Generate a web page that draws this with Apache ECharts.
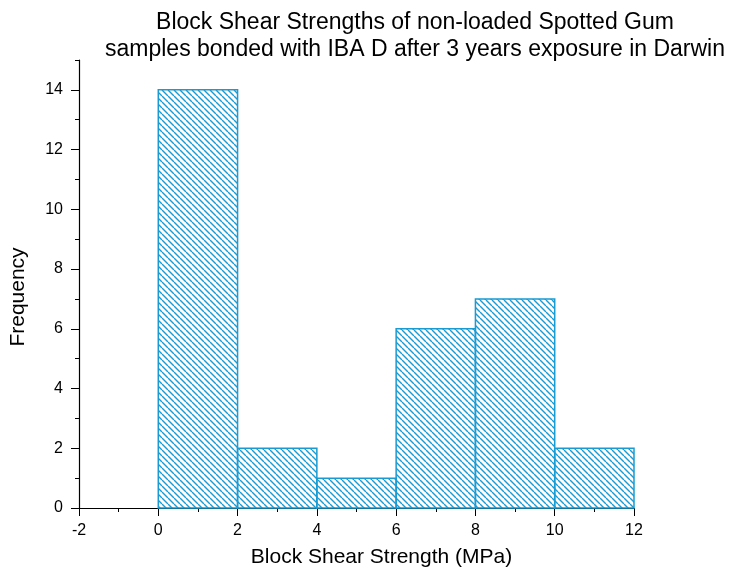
<!DOCTYPE html>
<html>
<head>
<meta charset="utf-8">
<script src="https://cdn.jsdelivr.net/npm/echarts@6/dist/echarts.min.js"></script>
<style>
  html, body { margin: 0; padding: 0; background: #fff; }
  #chart { width: 732px; height: 578px; }
</style>
</head>
<body>
<div id="chart"></div>
<script>
// histogram bins (MPa) and counts
const binStarts = [0, 2, 4, 6, 8, 10];
const binEnds = [2, 4, 6, 8, 10, 12];
const counts = [14, 2, 1, 6, 7, 2];

const xMajorTicks = [-2, 0, 2, 4, 6, 8, 10, 12];
const xMinorTicks = [-1, 1, 3, 5, 7, 9, 11];
const yMajorTicks = [0, 2, 4, 6, 8, 10, 12, 14];
const yMinorTicks = [1, 3, 5, 7, 9, 11, 13, 15];

const barColor = "#1a9bd2";
const fontFamily = "Liberation Sans, Arial, sans-serif";

// hatch pattern "\\\\"
function makeHatch() {
  const p = 6;
  const c = document.createElement("canvas");
  c.width = p;
  c.height = p;
  const ctx = c.getContext("2d");
  ctx.strokeStyle = barColor;
  ctx.lineWidth = 1.4;
  for (let a = -p; a <= p; a += p) {
    ctx.beginPath();
    ctx.moveTo(a, 0);
    ctx.lineTo(a + p, p);
    ctx.stroke();
  }
  return c;
}
const hatch = makeHatch();

const chart = echarts.init(document.getElementById("chart"));

const axisBase = {
  type: "value",
  axisLine: { show: true, onZero: false, lineStyle: { color: "#000", width: 1.2 } },
  splitLine: { show: false },
};

const option = {
  animation: false,
  title: {
    text: "Block Shear Strengths of non-loaded Spotted Gum\nsamples bonded with IBA D after 3 years exposure in Darwin",
    left: 410,
    top: 4,
    textAlign: "center",
    textStyle: {
      fontFamily,
      fontSize: 23,
      fontWeight: "normal",
      color: "#000",
      lineHeight: 27,
    },
  },
  grid: { left: 79, right: 98, top: 60, bottom: 70, containLabel: false, outerBoundsMode: "none" },
  xAxis: [
    {
      ...axisBase,
      min: -2,
      max: 12,
      interval: 2,
      name: "Block Shear Strength (MPa)",
      nameLocation: "middle",
      nameGap: 39,
      nameTextStyle: { fontFamily, fontSize: 21, color: "#000", padding: [0, 0, 0, 50] },
      axisTick: { show: true, length: 8, customValues: xMajorTicks, lineStyle: { color: "#000" } },
      axisLabel: { customValues: xMajorTicks, fontFamily, fontSize: 16, color: "#000", margin: 15 },
    },
    {
      ...axisBase,
      min: -2,
      max: 12,
      position: "bottom",
      axisLine: { show: false, onZero: false },
      axisTick: { show: true, length: 4, customValues: xMinorTicks, lineStyle: { color: "#000" } },
      axisLabel: { show: false },
    },
  ],
  yAxis: [
    {
      ...axisBase,
      min: 0,
      max: 15,
      name: "Frequency",
      nameLocation: "middle",
      nameGap: 50,
      nameRotate: 90,
      nameTextStyle: { fontFamily, fontSize: 21, color: "#000", padding: [0, 26, 0, 0] },
      axisTick: { show: true, length: 8, customValues: yMajorTicks, lineStyle: { color: "#000" } },
      axisLabel: { customValues: yMajorTicks, fontFamily, fontSize: 16, color: "#000", margin: 16 },
    },
    {
      ...axisBase,
      min: 0,
      max: 15,
      position: "left",
      axisLine: { show: false, onZero: false },
      axisTick: { show: true, length: 4, customValues: yMinorTicks, lineStyle: { color: "#000" } },
      axisLabel: { show: false },
    },
  ],
  series: [
    {
      type: "custom",
      xAxisIndex: 0,
      yAxisIndex: 0,
      data: counts.map((c, i) => [binStarts[i], binEnds[i], c]),
      renderItem: (params, api) => {
        const p0 = api.coord([api.value(0), 0]);
        const p1 = api.coord([api.value(1), api.value(2)]);
        return {
          type: "rect",
          shape: { x: p0[0], y: p1[1], width: p1[0] - p0[0], height: p0[1] - p1[1] },
          style: {
            fill: { image: hatch, repeat: "repeat" },
            stroke: barColor,
            lineWidth: 1.5,
          },
        };
      },
    },
  ],
};

chart.setOption(option);
</script>
</body>
</html>
